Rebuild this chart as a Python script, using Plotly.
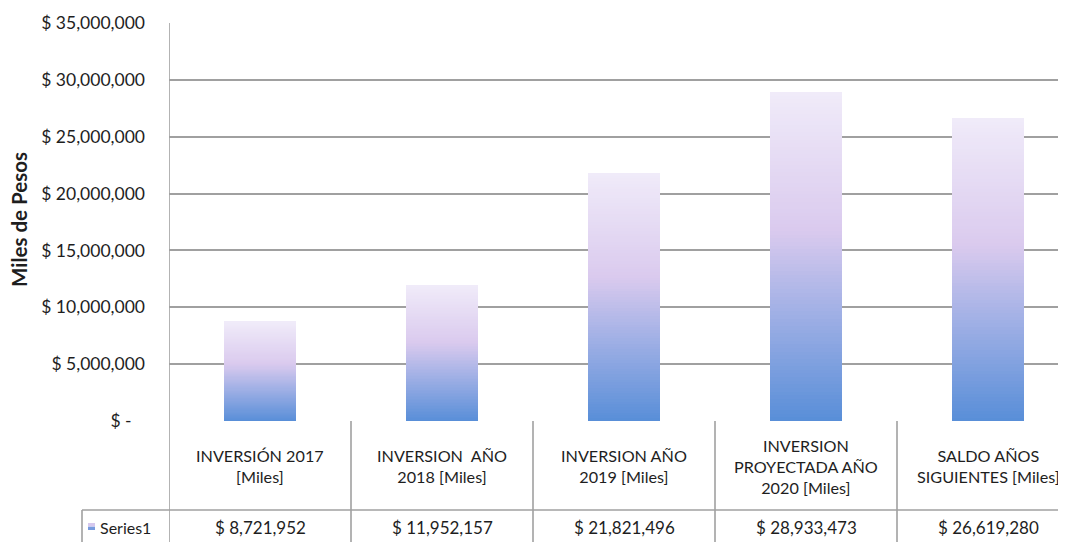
import plotly.graph_objects as go

categories = ["INVERSIÓN 2017<br>[Miles]", "INVERSION  AÑO<br>2018 [Miles]", "INVERSION AÑO<br>2019 [Miles]",
              "INVERSION<br>PROYECTADA AÑO<br>2020 [Miles]", "SALDO AÑOS<br>SIGUIENTES [Miles]"]
values = [8721952, 11952157, 21821496, 28933473, 26619280]
value_labels = ["$ 8,721,952", "$ 11,952,157", "$ 21,821,496", "$ 28,933,473", "$ 26,619,280"]
tick_vals = [0, 5000000, 10000000, 15000000, 20000000, 25000000, 30000000, 35000000]
tick_text = ["$ -\u00a0\u00a0\u00a0", "$ 5,000,000", "$ 10,000,000", "$ 15,000,000", "$ 20,000,000",
             "$ 25,000,000", "$ 30,000,000", "$ 35,000,000"]
series_name = "Series1"

FONT = "Lato"
GRID = "#a0a0a0"
TXT = "#1e1e1e"

# gradient stops (fraction from bottom, rgb)
stops = [(0.0, (88, 142, 216)), (0.35, (165, 178, 230)), (0.58, (218, 202, 238)), (1.0, (240, 235, 249))]

def color_at(f):
    for (f0, c0), (f1, c1) in zip(stops[:-1], stops[1:]):
        if f0 <= f <= f1:
            t = (f - f0) / (f1 - f0)
            c = [round(a + (b - a) * t) for a, b in zip(c0, c1)]
            return "rgb(%d,%d,%d)" % tuple(c)
    return "rgb(%d,%d,%d)" % stops[-1][1]

N = 90
xs = list(range(len(values)))
fig = go.Figure()
for i in range(N):
    f = (i + 0.5) / N
    fig.add_trace(go.Bar(
        x=xs, y=[v / N for v in values],
        marker=dict(color=color_at(f), line=dict(width=0)),
        showlegend=False, hoverinfo="skip", width=0.4,
    ))

H_PLOT = 398.0  # 23..421 px (page coords)

def py(p):
    return (421 - p) / H_PLOT

def px(p):
    return (p - 169) / 897.0

shapes = []
line = dict(color=GRID, width=1.6)
shapes.append(dict(type="line", xref="x", yref="paper", x0=-0.5, x1=-0.5, y0=py(545), y1=1, line=line))
for k in range(len(values)):
    xd = k + 0.5
    shapes.append(dict(type="line", xref="x", yref="paper", x0=xd, x1=xd, y0=py(545), y1=0, line=line))
shapes.append(dict(type="line", xref="paper", yref="paper", x0=px(82), x1=1, y0=py(510), y1=py(510), line=line))
shapes.append(dict(type="line", xref="paper", yref="paper", x0=px(82), x1=px(82), y0=py(545), y1=py(510), line=line))
# legend key
shapes.append(dict(type="rect", xref="paper", yref="paper", x0=px(88), x1=px(95), y0=py(530), y1=py(526.5),
                   fillcolor="rgb(120,155,222)", line=dict(width=0)))
shapes.append(dict(type="rect", xref="paper", yref="paper", x0=px(88), x1=px(95), y0=py(526.5), y1=py(523),
                   fillcolor="rgb(214,200,238)", line=dict(width=0)))

annotations = []
for i, c in enumerate(categories):
    annotations.append(dict(x=i, y=py(466), xref="x", yref="paper", text=c, showarrow=False,
                            xanchor="center", yanchor="middle",
                            font=dict(family=FONT, size=16.2, color=TXT)))
    annotations.append(dict(x=i, y=py(527), xref="x", yref="paper", text=value_labels[i], showarrow=False,
                            xanchor="center", yanchor="middle",
                            font=dict(family=FONT, size=17, color=TXT)))
annotations.append(dict(x=px(98), y=py(527), xref="paper", yref="paper", text=series_name,
                        showarrow=False, xanchor="left", yanchor="middle",
                        font=dict(family=FONT, size=16, color=TXT)))
annotations.append(dict(x=px(19), y=py(220), xref="paper", yref="paper", text="<b>Miles de Pesos</b>",
                        showarrow=False, xanchor="center", yanchor="middle", textangle=-90,
                        font=dict(family=FONT, size=20.5, color=TXT)))

# page has an 8px body margin: figure origin sits at (8, 8)
fig.update_layout(
    width=1058, height=534,
    margin=dict(l=161, r=0, t=15, b=121),
    paper_bgcolor="white", plot_bgcolor="white",
    barmode="stack", bargap=0.6,
    showlegend=False,
    xaxis=dict(range=[-0.5, -0.5 + 897 / 182.0], showticklabels=False, showgrid=False, zeroline=False,
               showline=False, ticks=""),
    yaxis=dict(range=[0, 35000000], tickvals=tick_vals, ticktext=tick_text, showgrid=True, gridcolor=GRID,
               gridwidth=1.6, zeroline=False, showline=False, ticks="", ticklabelstandoff=23,
               tickfont=dict(family=FONT, size=17.5, color=TXT)),
    shapes=shapes, annotations=annotations,
)

fig.write_html("out.html")
